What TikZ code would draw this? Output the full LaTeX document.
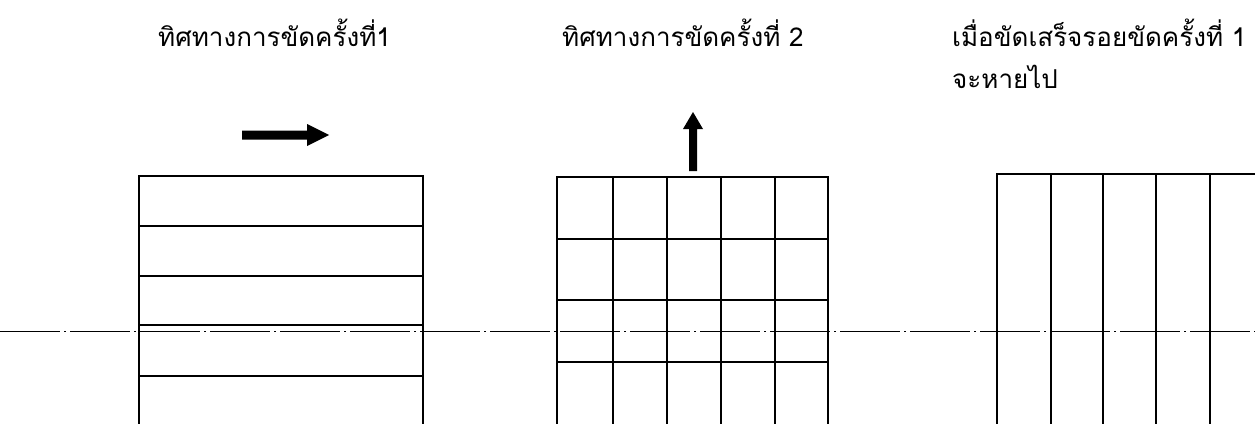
\documentclass[tikz,border=0pt]{standalone}
\usepackage{fontspec}
\newfontfamily\thaifont[Script=Thai]{Loma}
\begin{document}
\begin{tikzpicture}[x=1pt,y=-1pt,
  lbl/.style={anchor=base west,inner sep=0pt,font=\thaifont\fontsize{26}{30}\selectfont},
  edge/.style={line width=2.2pt,line cap=rect},
  centre/.style={line width=0.8pt,dash pattern=on 60pt off 4pt on 2pt off 4pt}]
\useasboundingbox (0,0) rectangle (1255,423);
% labels
\node[lbl] (t1) at (158,46) {ทิศทางการขัดครั้งที่1};
\node[lbl] (t2) at (562,46) {ทิศทางการขัดครั้งที่ 2};
\node[lbl] (t3) at (952,46) {เมื่อขัดเสร็จรอยขัดครั้งที่ 1};
\node[lbl] (t4) at (952,88) {จะหายไป};
% arrows
\fill (242,130.5) -- (307,130.5) -- (307,124) -- (329,135) -- (307,146) -- (307,139.5) -- (242,139.5) -- cycle;
\fill (689,171) -- (689,129) -- (683,129) -- (693,112) -- (703,129) -- (697,129) -- (697,171) -- cycle;
% centre line
\draw[centre] (0,331) -- (1255,331);
% panel 1
\draw[edge] (139,423) -- (139,176) -- (423,176) -- (423,423);
\foreach \y in {226,276,325,376} \draw[edge] (139,\y) -- (423,\y);
% panel 2
\draw[edge] (557,423) -- (557,177) -- (828,177) -- (828,423);
\foreach \y in {239,300,362} \draw[edge] (557,\y) -- (828,\y);
\foreach \x in {613,667,721,775} \draw[edge] (\x,177) -- (\x,423);
% panel 3
\draw[edge] (997,423) -- (997,174) -- (1255,174);
\foreach \x in {1051,1103,1156,1210} \draw[edge] (\x,174) -- (\x,423);
\end{tikzpicture}
\end{document}
